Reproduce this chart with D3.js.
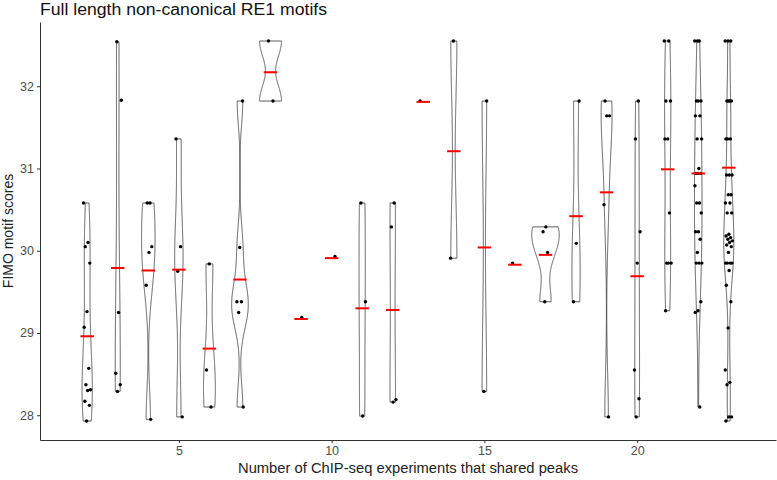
<!DOCTYPE html>
<html>
<head>
<meta charset="utf-8">
<script src="https://cdn.jsdelivr.net/npm/d3@7"></script>
<style>
body { margin: 0; background: #fff; }
text { font-family: "Liberation Sans", Arial, sans-serif; }
</style>
</head>
<body>
<div id="chart-area"></div>
<script>
// Number of ChIP-seq experiments sharing the peak
var categories = [2, 3, 4, 5, 6, 7, 8, 9, 10, 11, 12, 13, 14, 15, 16, 17, 18, 19, 20, 21, 22, 23];

// FIMO scores per category
var scores = [
    [30.58, 30.10, 30.05, 29.85, 29.26, 29.07, 28.57, 28.37, 28.31, 28.30, 28.17, 28.12, 27.93],
    [32.54, 31.83, 29.25, 28.51, 28.37, 28.29],
    [30.58, 30.58, 30.05, 29.98, 29.58, 27.95],
    [31.36, 30.05, 29.75, 27.98],
    [29.84, 28.55, 28.10],
    [31.82, 30.04, 29.38, 29.38, 29.25, 28.10],
    [32.55, 31.82],
    [29.19],
    [29.93],
    [30.58, 29.38, 27.99],
    [30.58, 30.29, 28.19, 28.16],
    [31.82],
    [32.55, 29.91],
    [31.82, 28.29],
    [29.85],
    [30.29, 30.23, 29.98, 29.38],
    [31.82, 30.09, 29.38],
    [31.82, 31.64, 31.64, 30.56, 27.98],
    [31.82, 31.36, 30.23, 29.85, 28.55, 28.20, 27.98],
    [32.55, 32.55, 31.82, 31.82, 31.36, 31.36, 30.46, 29.85, 29.85, 29.85, 29.27],
    [32.55, 32.55, 32.55, 31.82, 31.82, 31.82, 31.64, 31.64, 31.36, 31.36, 31.00, 30.94, 30.94, 30.94,
     30.79, 30.58, 30.58, 30.46, 30.23, 30.23, 30.14, 29.98, 29.85, 29.85, 29.85, 29.38, 29.27, 29.25, 28.10],
    [32.55, 32.55, 32.55, 31.82, 31.82, 31.82, 31.82, 31.36, 31.36, 31.36, 30.92, 30.92, 30.92, 30.68, 30.68,
     30.58, 30.58, 30.46, 30.46, 30.20, 30.18, 30.16, 30.14, 30.12, 30.10, 30.07, 30.05, 29.98,
     29.85, 29.85, 29.85, 29.85, 29.76, 29.58, 29.38, 29.06, 28.55, 28.40, 28.37, 27.98, 27.98, 27.93]
];

// red bars: mean score per category
var means = [28.96, 29.79, 29.76, 29.77, 28.81, 29.65, 32.17, 29.17, 29.91, 29.30, 29.28, 31.81,
             31.21, 30.04, 29.83, 29.95, 30.42, 30.71, 29.69, 30.99, 30.94, 31.01];

var xTicks = [5, 10, 15, 20];
var yTicks = [28, 29, 30, 31, 32];

var margin = { left: 40, right: 1, top: 22, bottom: 40 },
    width = 777 - margin.left - margin.right,
    height = 480 - margin.top - margin.bottom;

var svg = d3.select("#chart-area").append("svg")
    .attr("width", 777)
    .attr("height", 480);

var g = svg.append("g")
    .attr("transform", "translate(" + margin.left + "," + margin.top + ")");

// Scales, with ggplot's 5% expansion
var allScores = d3.merge(scores);
var yExt = d3.extent(allScores);
var yPad = (yExt[1] - yExt[0]) * 0.05;
var xExt = [d3.min(categories) - 0.45, d3.max(categories) + 0.45];
var xPad = (xExt[1] - xExt[0]) * 0.05;

var x = d3.scaleLinear().domain([xExt[0] - xPad, xExt[1] + xPad]).range([0, width]);
var y = d3.scaleLinear().domain([yExt[0] - yPad, yExt[1] + yPad]).range([height, 0]);

// Kernel density (gaussian, bw.nrd0), trimmed to data range
function bwNrd0(v) {
    var s = v.slice().sort(d3.ascending);
    var sd = d3.deviation(s);
    var iqr = d3.quantile(s, 0.75) - d3.quantile(s, 0.25);
    var lo = Math.min(sd, iqr / 1.34);
    if (!lo) lo = sd || Math.abs(s[0]) || 1;
    return 0.9 * lo * Math.pow(s.length, -0.2);
}

function gauss(u) { return Math.exp(-0.5 * u * u) / Math.sqrt(2 * Math.PI); }

var violins = [];
categories.forEach(function(c, i) {
    var v = scores[i];
    if (v.length < 2) return;   // ggplot drops groups with a single value
    var bw = bwNrd0(v);
    var lo = d3.min(v), hi = d3.max(v);
    var pts = d3.range(512).map(function(k) {
        var t = lo + k * (hi - lo) / 511;
        return { t: t, d: d3.mean(v, function(xi) { return gauss((t - xi) / bw); }) / bw };
    });
    violins.push({ cat: c, pts: pts });
});

var maxDens = d3.max(violins, function(vl) { return d3.max(vl.pts, function(p) { return p.d; }); });

var area = d3.area()
    .y(function(p) { return y(p.t); });

violins.forEach(function(vl) {
    area.x0(function(p) { return x(vl.cat - 0.45 * p.d / maxDens); })
        .x1(function(p) { return x(vl.cat + 0.45 * p.d / maxDens); });
    g.append("path")
        .attr("d", area(vl.pts))
        .attr("fill", "#fff")
        .attr("stroke", "#333")
        .attr("stroke-width", 0.8);
});

// Jittered points (deterministic spread)
categories.forEach(function(c, i) {
    g.selectAll(null)
        .data(scores[i])
        .enter().append("circle")
        .attr("cx", function(d, j) { return x(c + (((j * 0.618034 + i * 0.37) % 1) * 2 - 1) * 0.12); })
        .attr("cy", function(d) { return y(d); })
        .attr("r", 1.7)
        .attr("fill", "#000");
});

// Means
g.selectAll(".mean")
    .data(categories)
    .enter().append("line")
    .attr("class", "mean")
    .attr("x1", function(c) { return x(c - 0.22); })
    .attr("x2", function(c) { return x(c + 0.22); })
    .attr("y1", function(c, i) { return y(means[i]); })
    .attr("y2", function(c, i) { return y(means[i]); })
    .attr("stroke", "#ff0000")
    .attr("stroke-width", 2);

// Axes
var xAxis = g.append("g")
    .attr("transform", "translate(0," + height + ")")
    .call(d3.axisBottom(x).tickValues(xTicks).tickSize(3).tickPadding(3).tickSizeOuter(0));
var yAxis = g.append("g")
    .call(d3.axisLeft(y).tickValues(yTicks).tickFormat(d3.format("d"))
        .tickSize(3).tickPadding(3).tickSizeOuter(0));

[xAxis, yAxis].forEach(function(a) {
    a.select(".domain").attr("stroke", "#333").attr("stroke-width", 1);
    a.selectAll(".tick line").attr("stroke", "#333");
    a.selectAll(".tick text")
        .attr("fill", "#4d4d4d")
        .attr("font-size", "12.5px")
        .attr("font-family", "Liberation Sans, Arial, sans-serif");
});

// Labels
svg.append("text")
    .attr("x", margin.left)
    .attr("y", 15)
    .attr("font-size", "16px")
    .attr("textLength", 287)
    .attr("lengthAdjust", "spacingAndGlyphs")
    .attr("fill", "#111")
    .text("Full length non-canonical RE1 motifs");

svg.append("text")
    .attr("x", margin.left + width / 2)
    .attr("y", 473)
    .attr("text-anchor", "middle")
    .attr("font-size", "14px")
    .attr("textLength", 340)
    .attr("lengthAdjust", "spacingAndGlyphs")
    .attr("fill", "#222")
    .text("Number of ChIP-seq experiments that shared peaks");

svg.append("text")
    .attr("transform", "rotate(-90)")
    .attr("x", -(margin.top + height / 2))
    .attr("y", 13)
    .attr("text-anchor", "middle")
    .attr("font-size", "14px")
    .attr("fill", "#222")
    .text("FIMO motif scores");
</script>
</body>
</html>
